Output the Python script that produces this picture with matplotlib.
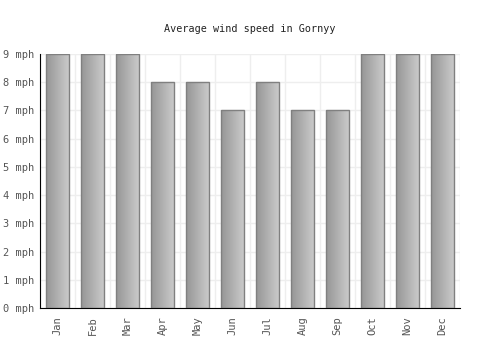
import matplotlib

matplotlib.use("Agg")
import matplotlib.pyplot as plt
import numpy as np

months = ["Jan", "Feb", "Mar", "Apr", "May", "Jun", "Jul", "Aug", "Sep", "Oct", "Nov", "Dec"]
wind_mph = [9, 9, 9, 8, 8, 7, 8, 7, 7, 9, 9, 9]
y_ticks = list(range(0, 10))

plt.rcParams["font.family"] = ["DejaVu Sans Mono"]

fig = plt.figure(figsize=(5, 3.5), dpi=100)
ax = fig.add_axes([0.08, 0.12, 0.84, 0.7257])

x = np.arange(len(months))
width = 0.66
grad = np.linspace(0, 1, 64).reshape(1, -1)
cmap = matplotlib.colors.LinearSegmentedColormap.from_list("g", ["#969696", "#cccccc"])
bars = ax.bar(x, wind_mph, width=width, facecolor="none", edgecolor="#808080", lw=1, zorder=3)
for xi, v in zip(x, wind_mph):
    ax.imshow(grad, extent=(xi - width / 2, xi + width / 2, 0, v), cmap=cmap,
              aspect="auto", zorder=2, interpolation="bilinear")

ax.set_xlim(-0.5, len(months) - 0.5)
ax.set_ylim(0, 9)
ax.set_yticks(y_ticks, [f"{t} mph" for t in y_ticks])
ax.set_xticks(x, months, rotation=90)
ax.set_xticks(np.arange(-0.5, len(months), 1), minor=True)
ax.grid(True, which="minor", axis="x", color="#eeeeee", lw=1, zorder=0)
ax.grid(True, which="major", axis="y", color="#eeeeee", lw=1, zorder=0)
ax.tick_params(which="both", length=0)
ax.tick_params(axis="both", labelsize=7.5, labelcolor="#555555")
ax.tick_params(axis="y", pad=4)
ax.tick_params(axis="x", pad=6)
for s in ["top", "right"]:
    ax.spines[s].set_visible(False)
ax.spines["left"].set_color("black")
ax.spines["bottom"].set_color("black")
ax.set_title("Average wind speed in Gornyy", fontsize=7.3, color="#222222", pad=16)

fig.savefig("out.png", dpi=100)
